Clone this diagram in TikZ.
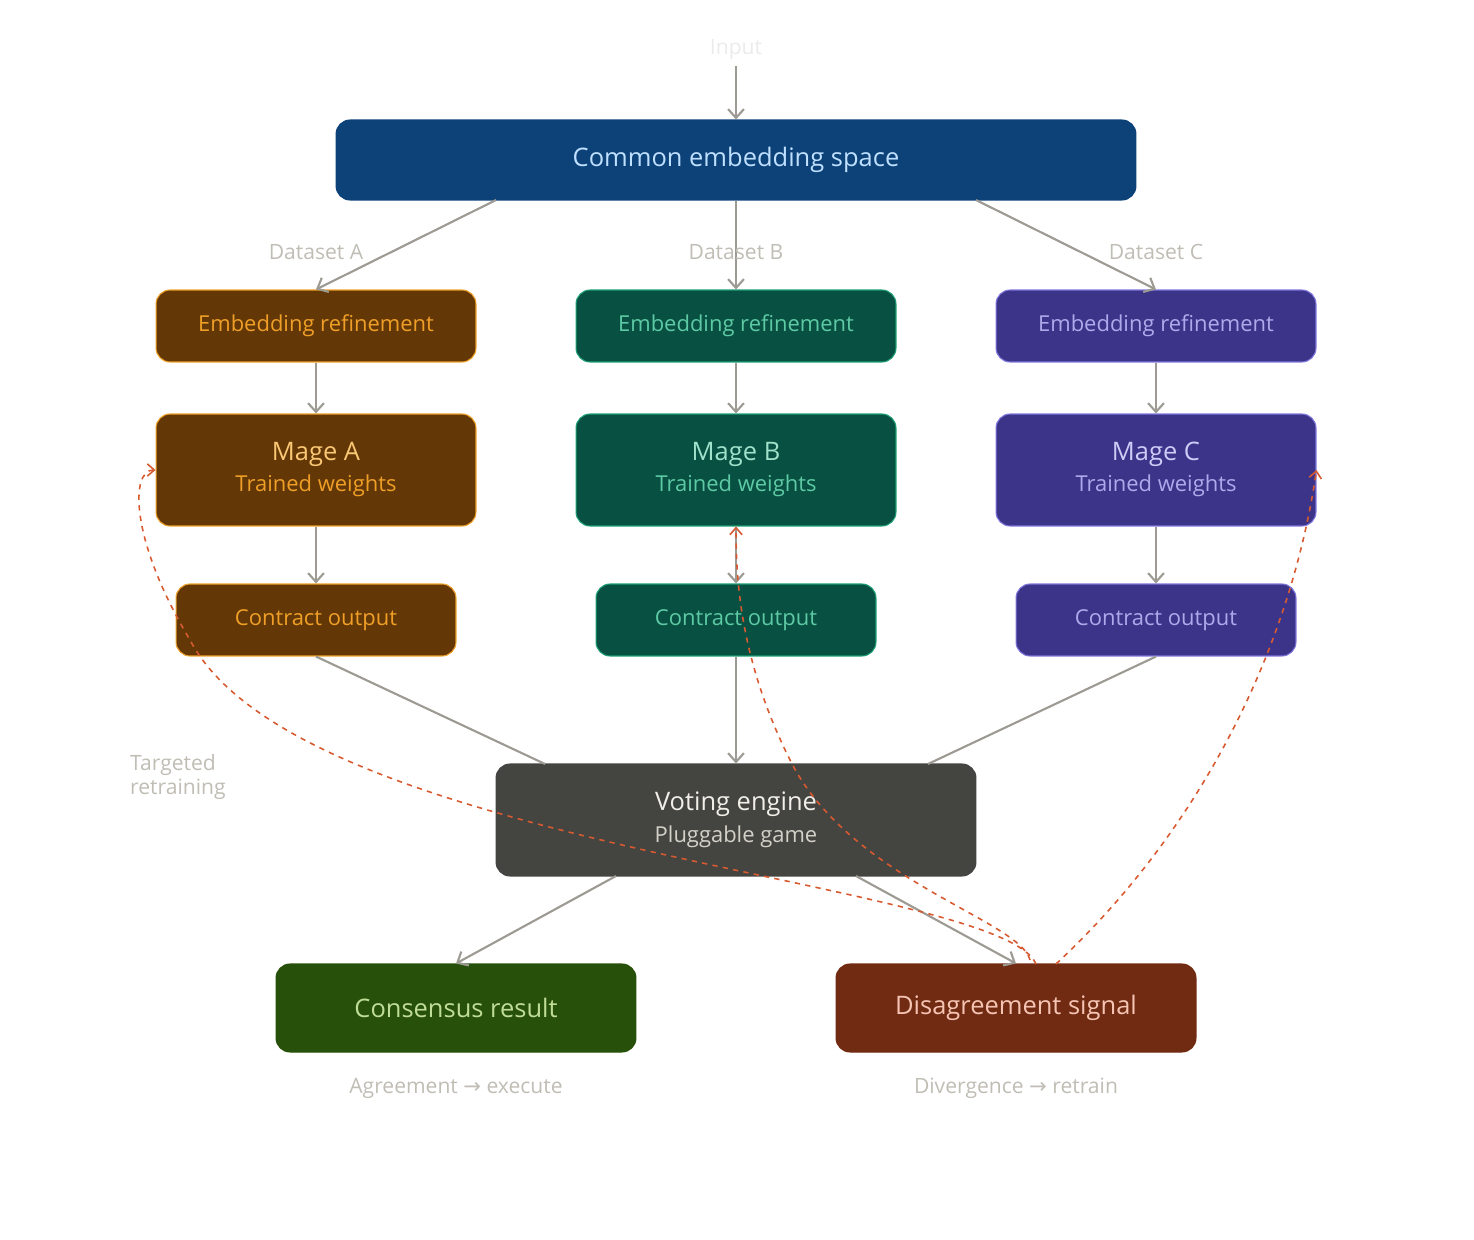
\documentclass[tikz,border=0pt]{standalone}
\usepackage{fontspec}
\setmainfont{Open Sans}
\newfontfamily\symfont{DejaVu Sans}
\usetikzlibrary{arrows.meta}
\definecolor{arr}{HTML}{9C9A92}
\definecolor{lbl}{HTML}{C0BDB5}
\definecolor{red}{HTML}{D85A30}
\definecolor{ca}{HTML}{633806}\definecolor{cab}{HTML}{EF9F27}\definecolor{cat}{HTML}{FAC775}
\definecolor{cb}{HTML}{085041}\definecolor{cbb}{HTML}{1D9E75}\definecolor{cbt}{HTML}{9FE1CB}\definecolor{cbs}{HTML}{5DCAA5}
\definecolor{cc}{HTML}{3C3489}\definecolor{ccb}{HTML}{7F77DD}\definecolor{cct}{HTML}{CECBF6}\definecolor{ccs}{HTML}{AFA9EC}
\definecolor{cv}{HTML}{444441}\definecolor{cvt}{HTML}{F1EFE8}\definecolor{cvs}{HTML}{D3D1C7}
\definecolor{cg}{HTML}{27500A}\definecolor{cgt}{HTML}{C0DD97}
\definecolor{cr}{HTML}{712B13}\definecolor{crt}{HTML}{F5C4B3}
\definecolor{ce}{HTML}{0D4279}\definecolor{cet}{HTML}{BFE0FF}
\newcommand\low[1]{\raisebox{-4.5pt}{#1}}
\newcommand\twoline[2]{\raisebox{-3.4pt}{\begin{tabular}{@{}c@{}}#1\\[5pt]#2\end{tabular}}}
\tikzset{
  box/.style={draw, rounded corners=8pt, line width=0.6pt, inner sep=0pt, align=center},
  arrow/.style={draw=arr, line width=1.2pt, -{Straight Barb[length=5pt,width=9pt]}},
  link/.style={draw=arr, line width=1.2pt},
  back/.style={draw=red, line width=0.9pt, dashed, -{Straight Barb[length=4pt,width=7pt]}},
  note/.style={text=lbl, font=\fontsize{12}{14}\selectfont}
}
\begin{document}
\begin{tikzpicture}[x=0.02cm,y=-0.02cm]
\useasboundingbox (0,0) rectangle (1474,1240);
\node[note,text=black!8] (in) at (736,50) {Input};
\node[box, fill=ce, draw=ce, text=cet, minimum width=16cm, minimum height=1.6cm, font=\fontsize{14.5}{17}\selectfont] (emb) at (736,160) {\low{Common embedding space}};

\node[box, fill=ca, draw=cab, text=cab, minimum width=6.4cm, minimum height=1.44cm, font=\fontsize{12.5}{15}\selectfont] (ra) at (316,326) {\low{Embedding refinement}};
\node[box, fill=cb, draw=cbb, text=cbs, minimum width=6.4cm, minimum height=1.44cm, font=\fontsize{12.5}{15}\selectfont] (rb) at (736,326) {\low{Embedding refinement}};
\node[box, fill=cc, draw=ccb, text=ccs, minimum width=6.4cm, minimum height=1.44cm, font=\fontsize{12.5}{15}\selectfont] (rc) at (1156,326) {\low{Embedding refinement}};

\node[box, fill=ca, draw=cab, minimum width=6.4cm, minimum height=2.24cm] (ma) at (316,470) {\twoline{\textcolor{cat}{\fontsize{14.5}{17}\selectfont Mage A}}{\textcolor{cab}{\fontsize{12.5}{15}\selectfont Trained weights}}};
\node[box, fill=cb, draw=cbb, minimum width=6.4cm, minimum height=2.24cm] (mb) at (736,470) {\twoline{\textcolor{cbt}{\fontsize{14.5}{17}\selectfont Mage B}}{\textcolor{cbs}{\fontsize{12.5}{15}\selectfont Trained weights}}};
\node[box, fill=cc, draw=ccb, minimum width=6.4cm, minimum height=2.24cm] (mc) at (1156,470) {\twoline{\textcolor{cct}{\fontsize{14.5}{17}\selectfont Mage C}}{\textcolor{ccs}{\fontsize{12.5}{15}\selectfont Trained weights}}};

\node[box, fill=ca, draw=cab, text=cab, minimum width=5.6cm, minimum height=1.44cm, font=\fontsize{12.5}{15}\selectfont] (oa) at (316,620) {\low{Contract output}};
\node[box, fill=cb, draw=cbb, text=cbs, minimum width=5.6cm, minimum height=1.44cm, font=\fontsize{12.5}{15}\selectfont] (ob) at (736,620) {\low{Contract output}};
\node[box, fill=cc, draw=ccb, text=ccs, minimum width=5.6cm, minimum height=1.44cm, font=\fontsize{12.5}{15}\selectfont] (oc) at (1156,620) {\low{Contract output}};

\node[box, fill=cv, draw=cv, minimum width=9.6cm, minimum height=2.24cm] (vote) at (736,820) {\twoline{\textcolor{cvt}{\fontsize{14.5}{17}\selectfont Voting engine}}{\textcolor{cvs}{\fontsize{12.5}{15}\selectfont Pluggable game}}};

\node[box, fill=cg, draw=cg, text=cgt, minimum width=7.2cm, minimum height=1.76cm, font=\fontsize{14.5}{17}\selectfont] (cons) at (456,1008) {\low{Consensus result}};
\node[box, fill=cr, draw=cr, text=crt, minimum width=7.2cm, minimum height=1.76cm, font=\fontsize{14.5}{17}\selectfont] (dis) at (1016,1008) {\low{Disagreement signal}};
\node[note] (agree) at (456,1088) {Agreement {\symfont →} execute};
\node[note] (diverge) at (1016,1088) {Divergence {\symfont →} retrain};
\node[note, align=left, anchor=west] (retrain) at (124,777) {Targeted\\retraining};

\draw[arrow] (in) -- (emb.north);
\draw[arrow] (496,200) -- (ra.north);
\draw[arrow] (emb.south) -- (rb.north);
\draw[arrow] (976,200) -- (rc.north);
\foreach \r/\m/\o in {ra/ma/oa,rb/mb/ob,rc/mc/oc}{
  \draw[arrow] (\r) -- (\m);
  \draw[arrow] (\m) -- (\o);
}
\draw[link] (oa.south) -- (545,764);
\draw[arrow] (ob.south) -- (vote.north);
\draw[link] (oc.south) -- (928,764);
\draw[arrow] (616,876) -- (cons.north);
\draw[arrow] (856,876) -- (dis.north);

\node[note] (da) at (316,252) {Dataset A};
\node[note] (db) at (736,252) {Dataset B};
\node[note] (dc) at (1156,252) {Dataset C};

\draw[back] (1036,964) .. controls (1000,880) and (300,850) .. (190,640) .. controls (130,540) and (130,470) .. (ma.west);
\draw[back] (1030,960) .. controls (1020,920) and (850,880) .. (790,760) .. controls (740,660) and (736,580) .. (mb.south);
\draw[back] (1056,964) .. controls (1200,830) and (1290,650) .. (mc.east);
\end{tikzpicture}
\end{document}
